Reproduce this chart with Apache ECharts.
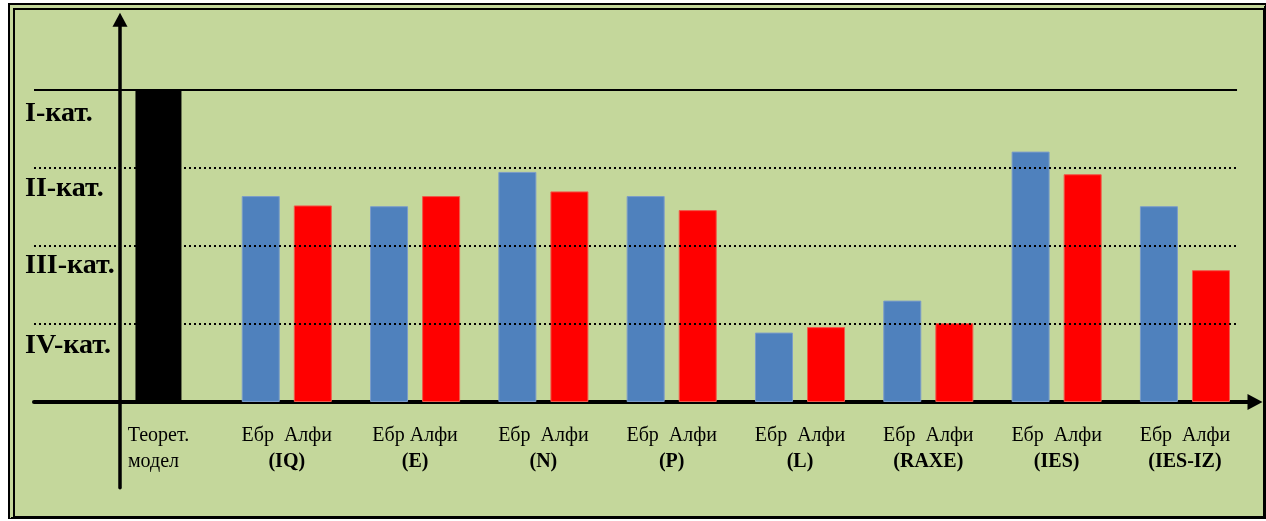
<!DOCTYPE html>
<html>
<head>
<meta charset="utf-8">
<script src="https://cdn.jsdelivr.net/npm/echarts@6/dist/echarts.min.js"></script>
<style>
    html, body { margin: 0; padding: 0; background: #fff; }
    #frame {
        position: absolute; left: 8px; top: 3px; width: 1258px; height: 516px;
        box-sizing: border-box;
        border-left: 7px double #000; border-top: 7px double #000;
        border-right: 3px solid #000; border-bottom: 3px solid #000;
        background: #c4d79b;
    }
    #chart { position: absolute; left: 0; top: 0; width: 1266px; height: 521px; }
</style>
</head>
<body>
<div id="frame"></div>
<div id="chart"></div>
<script>
// category rows on the vertical axis (bottom to top)
const levelLabels = ['IV-кат.', 'III-кат.', 'II-кат.', 'I-кат.']
// groups along the horizontal axis
const groupTop = ['Теорет.', 'Ебр  Алфи', 'Ебр Алфи', 'Ебр  Алфи', 'Ебр  Алфи', 'Ебр  Алфи', 'Ебр  Алфи', 'Ебр  Алфи', 'Ебр  Алфи']
const groupBottom = ['модел  ', '(IQ)', '(E)', '(N)', '(P)', '(L)', '(RAXE)', '(IES)', '(IES-IZ)']
// values, 1 unit = one category level
const theory = [4.0]
const ebr = [2.64, 2.51, 2.95, 2.64, 0.89, 1.30, 3.21, 2.51]
const alfi = [2.52, 2.64, 2.70, 2.46, 0.96, 1.01, 2.92, 1.69]
const levels = [1, 2, 3, 4]

const X_MIN = -0.97, X_MAX = 8.546, LINE_END = 8.406
const serif = '"Liberation Serif", "Times New Roman", serif'

const option = {
    backgroundColor: 'transparent',
    animation: false,
    grid: { left: 34, right: 11, top: 19.8, bottom: 33.2, outerBoundsMode: 'none' },
    xAxis: [{
        type: 'value',
        min: X_MIN, max: X_MAX,
        offset: -85.8,
        splitLine: { show: false },
        axisTick: { show: false },
        axisLine: {
            show: true, onZero: false,
            symbol: ['none', 'triangle'], symbolSize: [16, 15],
            lineStyle: { color: '#000', width: 4 }
        },
        axisLabel: {
            customValues: groupTop.map((d, i) => i),
            margin: 21,
            formatter: v => {
                const i = Math.round(v)
                return '{a|' + groupTop[i] + '}\n{' + (i === 0 ? 'a' : 'b') + '|' + groupBottom[i] + '}'
            },
            rich: {
                a: { fontFamily: serif, fontSize: 20, color: '#000', lineHeight: 26 },
                b: { fontFamily: serif, fontSize: 20, fontWeight: 'bold', color: '#000', lineHeight: 26 }
            }
        }
    }, {
        type: 'value', min: X_MIN, max: X_MAX, show: false
    }],
    yAxis: [{
        type: 'value',
        min: -1.1, max: 4.9,
        offset: -86,
        splitLine: { show: false },
        axisTick: { show: false },
        axisLine: {
            show: true, onZero: false,
            symbol: ['none', 'triangle'], symbolSize: [15, 14],
            lineStyle: { color: '#000', width: 3.5 }
        },
        axisLabel: {
            customValues: [0.72, 1.75, 2.74, 3.7],
            align: 'left',
            margin: 95,
            formatter: v => levelLabels[Math.round(v) - 1],
            fontFamily: serif, fontSize: 28, fontWeight: 'bold', color: '#000'
        }
    }],
    series: [{
        id: 'levels',
        type: 'line',
        data: [],
        z: 1,
        markLine: {
            silent: true,
            symbol: 'none',
            label: { show: false },
            data: levels.map(l => [{
                coord: [X_MIN, l],
                lineStyle: l === 4
                    ? { color: '#000', width: 2, type: 'solid' }
                    : { color: '#000', width: 2, type: [2, 3] }
            }, { coord: [LINE_END, l] }])
        }
    }, {
        id: 'theory',
        type: 'bar',
        xAxisIndex: 1,
        barWidth: 46,
        itemStyle: { color: '#000' },
        data: theory.map(v => [0, v]),
        z: 3
    }, {
        id: 'ebr',
        type: 'bar',
        barWidth: 38,
        barGap: '37%',
        itemStyle: { color: '#4f81bd', borderColor: '#7b9cc9', borderWidth: 1 },
        data: ebr.map((v, i) => [i + 1, v]),
        z: 3
    }, {
        id: 'alfi',
        type: 'bar',
        barWidth: 38,
        barGap: '37%',
        itemStyle: { color: '#ff0000', borderColor: '#f05a4a', borderWidth: 1 },
        data: alfi.map((v, i) => [i + 1, v]),
        z: 3
    }]
}

const chart = echarts.init(document.getElementById('chart'))
chart.setOption(option)
</script>
</body>
</html>
